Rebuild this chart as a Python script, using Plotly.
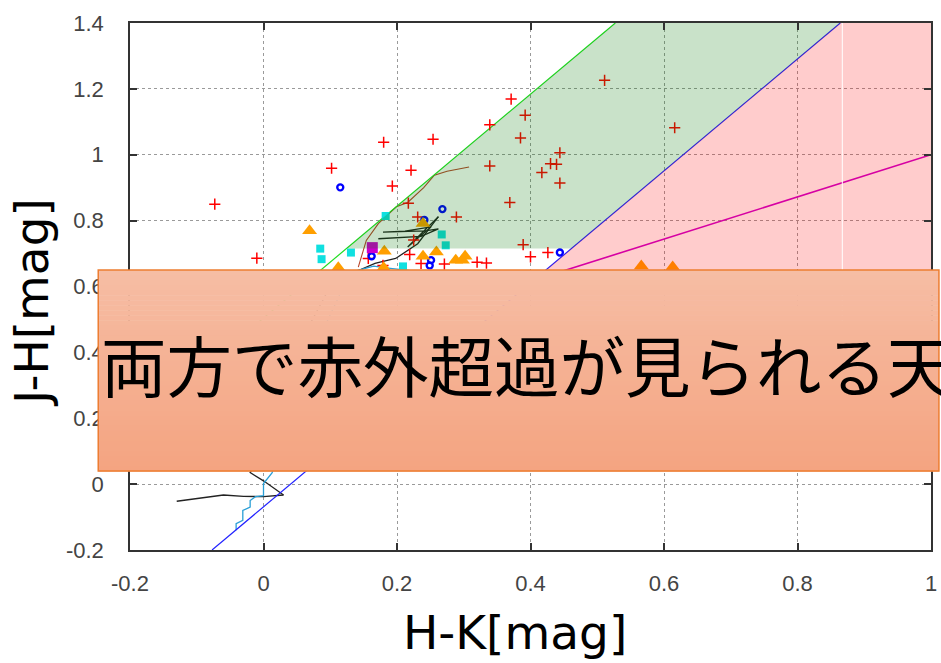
import plotly.graph_objects as go

# ---- colour-colour data (H-K, J-H) ----
plus_hk = [-0.073, -0.010, 0.102, 0.180, 0.193, 0.221, 0.254, 0.217, 0.231, 0.289,
           0.339, 0.371, 0.392, 0.385, 0.339, 0.444, 0.430, 0.439, 0.417, 0.444,
           0.511, 0.616, 0.369, 0.225, 0.389, 0.400, 0.426, 0.320, 0.334, 0.219,
           0.271, 0.157, 0.236, 0.179]
plus_jh = [0.850, 0.686, 0.959, 1.038, 0.905, 0.953, 1.047, 0.853, 0.811, 0.811,
           1.091, 1.169, 1.120, 1.051, 0.966, 1.006, 0.973, 0.971, 0.946, 0.914,
           1.226, 1.082, 0.855, 0.741, 0.727, 0.690, 0.703, 0.674, 0.671, 0.697,
           0.668, 0.685, 0.670, 0.664]

ring_hk = [0.115, 0.268, 0.444, 0.241, 0.162, 0.251, 0.249]
ring_jh = [0.901, 0.835, 0.703, 0.802, 0.692, 0.680, 0.664]

sq_hk = [0.183, 0.085, 0.087, 0.131, 0.267, 0.273, 0.209]
sq_jh = [0.814, 0.715, 0.683, 0.703, 0.758, 0.725, 0.661]

tri_hk = [0.069, 0.181, 0.239, 0.259, 0.239, 0.288, 0.298, 0.302, 0.112, 0.180, 0.566, 0.613]
tri_jh = [0.769, 0.707, 0.791, 0.705, 0.692, 0.680, 0.680, 0.692, 0.657, 0.657, 0.662, 0.659]

mag_hk = [0.163]
mag_jh = [0.718]

# intrinsic sequences
dwarf_hk = [-0.13, -0.09, -0.06, -0.03, 0.00, 0.03]
dwarf_jh = [-0.052, -0.040, -0.033, -0.037, -0.038, -0.033]

giant_hk = [0.03, 0.00, -0.02, 0.02, 0.06, 0.10, 0.12, 0.149, 0.167, 0.187, 0.198, 0.231, 0.262]
giant_jh = [-0.033, 0.010, 0.035, 0.20, 0.45, 0.60, 0.629, 0.655, 0.670, 0.680, 0.685, 0.730, 0.812]

track_hk = [0.172, 0.202, 0.236, 0.262, 0.242, 0.179, 0.212, 0.251, 0.216, 0.262]
track_jh = [0.745, 0.749, 0.752, 0.775, 0.769, 0.765, 0.768, 0.781, 0.720, 0.812]

brown_hk = [0.142, 0.154, 0.172, 0.199, 0.216, 0.240, 0.256, 0.275, 0.308]
brown_jh = [0.659, 0.740, 0.791, 0.842, 0.855, 0.900, 0.938, 0.950, 0.963]

step_hk = [-0.041, -0.041, -0.031, -0.031, -0.020, -0.020, -0.012, 0.000, 0.000,
           0.013, 0.05, 0.12, 0.140, 0.165, 0.190, 0.220]
step_jh = [-0.140, -0.120, -0.110, -0.080, -0.070, -0.050, -0.038, -0.035, 0.002,
           0.035, 0.30, 0.60, 0.648, 0.662, 0.655, 0.648]

# reddening band and CTTS locus (slope, intercept)
red_slope = 1.70
upper_icpt = 0.504
lower_icpt = -0.069
ctts_slope = 0.64
ctts_icpt = 0.36
band_floor = 0.715
pink_floor = 0.40

X0, X1, Y0, Y1 = -0.2, 1.0, -0.2, 1.4


def hk_on(icpt, jh):
    return (jh - icpt) / red_slope


fig = go.Figure()


def add_line(xs, ys, color, width):
    fig.add_trace(go.Scatter(x=xs, y=ys, mode="lines", line=dict(color=color, width=width),
                             hoverinfo="skip", showlegend=False))


add_line(dwarf_hk, dwarf_jh, "#222222", 1.3)
add_line(giant_hk, giant_jh, "#222222", 1.3)
add_line(track_hk, track_jh, "#222222", 1.3)
add_line(brown_hk, brown_jh, "#b8452c", 1.1)
add_line(step_hk, step_jh, "#2a9fd6", 1.3)

# reddening vectors
up_x = [X0, hk_on(upper_icpt, Y1)]
add_line(up_x, [red_slope * x + upper_icpt for x in up_x], "#22dd22", 1.2)
lo_x = [hk_on(lower_icpt, Y0), hk_on(lower_icpt, Y1)]
add_line(lo_x, [red_slope * x + lower_icpt for x in lo_x], "#2222ff", 1.2)
# CTTS locus starting at the lower reddening line
c_start = (ctts_icpt - lower_icpt) / (red_slope - ctts_slope)
ct_x = [c_start, X1]
add_line(ct_x, [ctts_slope * x + ctts_icpt for x in ct_x], "#cc00cc", 1.6)

# sources
fig.add_trace(go.Scatter(x=plus_hk, y=plus_jh, mode="markers", hoverinfo="skip", showlegend=False,
                         marker=dict(symbol="cross-thin-open", size=8, color="#ff0000",
                                     line=dict(color="#ff0000", width=1.5))))
fig.add_trace(go.Scatter(x=ring_hk, y=ring_jh, mode="markers", hoverinfo="skip", showlegend=False,
                         marker=dict(symbol="circle-open", size=6, color="#0000ff",
                                     line=dict(color="#0000ff", width=2.4))))
fig.add_trace(go.Scatter(x=sq_hk, y=sq_jh, mode="markers", hoverinfo="skip", showlegend=False,
                         marker=dict(symbol="square", size=8, color="#10e0e0")))
fig.add_trace(go.Scatter(x=tri_hk, y=tri_jh, mode="markers", hoverinfo="skip", showlegend=False,
                         marker=dict(symbol="triangle-up", size=13, color="#ff9f00")))
fig.add_trace(go.Scatter(x=mag_hk, y=mag_jh, mode="markers", hoverinfo="skip", showlegend=False,
                         marker=dict(symbol="square", size=11, color="#cc00cc")))

# translucent regions
gx = [hk_on(upper_icpt, band_floor), hk_on(upper_icpt, Y1), hk_on(lower_icpt, Y1), hk_on(lower_icpt, band_floor)]
gy = [band_floor, Y1, Y1, band_floor]
fig.add_trace(go.Scatter(x=gx, y=gy, fill="toself", mode="lines", line=dict(width=0),
                         fillcolor="rgba(0,120,0,0.21)", hoverinfo="skip", showlegend=False))
px_ = [hk_on(lower_icpt, pink_floor), hk_on(lower_icpt, Y1), X1, X1]
py_ = [pink_floor, Y1, Y1, pink_floor]
fig.add_trace(go.Scatter(x=px_, y=py_, fill="toself", mode="lines", line=dict(width=0),
                         fillcolor="rgba(255,0,0,0.2)", hoverinfo="skip", showlegend=False))

# page geometry (pixels)
W, H = 941, 663
ML, MR, MT, MB = 130, 4, 23, 113
PW, PH = W - ML - MR, H - MT - MB


def xp(px):
    return (px - ML) / PW


def yp(py):
    return (H - MB - py) / PH


shapes = [dict(type="line", xref="x", yref="y", x0=hk_on(lower_icpt, Y1) + 0.003, x1=hk_on(lower_icpt, Y1) + 0.003,
               y0=pink_floor, y1=Y1, line=dict(color="white", width=1), layer="above")]

# banner with a vertical gradient
top_c = (246, 189, 164)
bot_c = (244, 164, 129)
b_top, b_bot, b_left, b_right = 270, 471, 98, 945
n = 40
for i in range(n):
    t = i / (n - 1)
    c = tuple(round(top_c[k] + (bot_c[k] - top_c[k]) * t) for k in range(3))
    y_a = b_top + (b_bot - b_top) * i / n
    y_b = b_top + (b_bot - b_top) * (i + 1) / n + 0.6
    shapes.append(dict(type="rect", xref="paper", yref="paper", x0=xp(b_left), x1=xp(b_right),
                       y0=yp(y_b), y1=yp(y_a), fillcolor="rgb(%d,%d,%d)" % c, line=dict(width=0), layer="above"))
shapes.append(dict(type="rect", xref="paper", yref="paper", x0=xp(b_left), x1=xp(b_right),
                   y0=yp(b_bot), y1=yp(b_top), line=dict(color="#ed7d31", width=1.5), layer="above"))

annotations = [
    dict(text="両方で赤外超過が見られる天体", xref="paper", yref="paper", x=xp(99), y=yp(364),
         xanchor="left", yanchor="middle", showarrow=False,
         font=dict(family="Noto Sans CJK JP", size=65.5, color="black")),
    dict(text="H-K[mag]", xref="paper", yref="paper", x=xp(518), y=yp(632),
         xanchor="center", yanchor="middle", showarrow=False,
         font=dict(family="DejaVu Sans", size=47, color="black")),
    dict(text="J-H[mag]", xref="paper", yref="paper", x=xp(30), y=yp(302), textangle=-90,
         xanchor="center", yanchor="middle", showarrow=False,
         font=dict(family="DejaVu Sans", size=47, color="black")),
]

x_ticks = [-0.2, 0, 0.2, 0.4, 0.6, 0.8, 1]
x_labels = ["-0.2", "0", "0.2", "0.4", "0.6", "0.8", "1"]
y_ticks = [-0.2, 0, 0.2, 0.4, 0.6, 0.8, 1, 1.2, 1.4]
y_labels = ["-0.2", "0", "0.2", "0.4", "0.6", "0.8", "1", "1.2", "1.4"]

axis_common = dict(showline=True, linecolor="#333333", linewidth=1.5, mirror="allticks",
                   ticks="inside", ticklen=7, tickwidth=1.5, tickcolor="#333333",
                   showgrid=True, gridcolor="#9a9a9a", gridwidth=1, griddash="dot",
                   zeroline=False, ticklabeloverflow="allow",
                   tickfont=dict(family="Liberation Sans", size=22, color="#444444"))

fig.update_layout(
    width=W, height=H, margin=dict(l=ML, r=MR, t=MT, b=MB),
    paper_bgcolor="white", plot_bgcolor="white", showlegend=False,
    xaxis=dict(range=[X0, X1], tickvals=x_ticks, ticktext=x_labels, ticklabelstandoff=13, **axis_common),
    yaxis=dict(range=[Y0, Y1], tickvals=y_ticks, ticktext=y_labels, ticklabelstandoff=20, **axis_common),
    shapes=shapes, annotations=annotations,
)

fig.write_html("out.html")
